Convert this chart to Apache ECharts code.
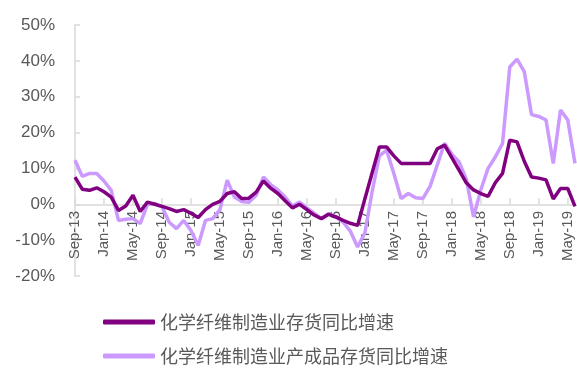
<!DOCTYPE html>
<html>
<head>
<meta charset="utf-8">
<script src="https://cdn.jsdelivr.net/npm/echarts@6/dist/echarts.min.js"></script>
<style>
    html, body { margin: 0; padding: 0; background: #fff; }
    #chart { width: 577px; height: 372px; }
</style>
</head>
<body>
<div id="chart"></div>
<script>
// months Sep-13 .. Jun-19
const months = [];
const monNames = ['Jan','Feb','Mar','Apr','May','Jun','Jul','Aug','Sep','Oct','Nov','Dec'];
for (let i = 0; i < 70; i++) {
    const m = (8 + i) % 12;
    const y = 13 + Math.floor((8 + i) / 12);
    months.push(monNames[m] + '-' + y);
}

const seriesNames = ['化学纤维制造业存货同比增速', '化学纤维制造业产成品存货同比增速'];

// 存货同比 (%)
const inventory = [
    7.6, 4.2, 3.9, 4.6, 3.5, 2.0, -1.7, -0.5, 2.5, -2.0,
    0.6, 0.0, -0.6, -1.2, -2.0, -1.5, -2.5, -3.7, -1.5, 0.0,
    0.8, 3.0, 3.5, 1.6, 1.7, 3.4, 6.5, 4.5, 3.0, 1.0,
    -1.0, 0.0, -1.5, -3.0, -4.0, -2.8, -3.5, -4.5, -5.3, -5.9,
    1.5, 8.7, 16.0, 16.0, 13.5, 11.4, 11.4, 11.4, 11.4, 11.4,
    15.5, 16.5, 13.0, 9.5, 6.0, 4.0, 3.0, 2.2, 6.0, 8.6,
    17.9, 17.4, 12.0, 7.6, 7.3, 6.8, 1.5, 4.4, 4.4, -0.6
];

// 产成品存货同比 (%)
const finishedGoods = [
    12.3, 7.8, 8.6, 8.6, 6.5, 3.9, -4.5, -4.2, -4.0, -5.4,
    0.0, 0.2, -0.7, -5.0, -6.8, -4.5, -7.3, -11.5, -4.5, -4.0,
    -1.5, 6.7, 2.0, 0.8, 0.6, 2.5, 7.6, 5.5, 4.0, 2.0,
    -0.5, 0.6, -1.0, -2.5, -4.0, -2.6, -3.5, -5.0, -7.5, -11.9,
    -8.0, 3.5, 13.5, 15.1, 8.6, 1.6, 3.0, 1.8, 1.6, 5.0,
    11.0, 17.0, 14.0, 11.8, 7.0, -3.5, 4.0, 10.0, 13.2, 17.0,
    38.3, 40.5, 37.0, 25.0, 24.5, 23.5, 11.4, 26.3, 23.5, 11.4
];

const chart = echarts.init(document.getElementById('chart'));

const option = {
    animation: false,
    grid: {
        left: 75,
        right: 2,
        top: 25,
        bottom: 96
    },
    legend: {
        orient: 'vertical',
        left: 103,
        top: 313,
        height: 90,
        padding: 0,
        itemWidth: 52,
        itemHeight: 5,
        itemGap: 16,
        icon: 'roundRect',
        textStyle: {
            fontFamily: 'Noto Sans CJK SC',
            fontSize: 18,
            color: '#595959'
        },
        data: seriesNames
    },
    xAxis: {
        type: 'category',
        data: months,
        boundaryGap: false,
        axisLine: {
            onZero: true,
            lineStyle: { color: '#D9D9D9', width: 1.5 }
        },
        axisTick: {
            inside: true,
            length: 6,
            interval: 3,
            lineStyle: { color: '#D9D9D9', width: 1.5 }
        },
        axisLabel: {
            interval: 3,
            rotate: 90,
            align: 'right',
            verticalAlign: 'middle',
            // labels sit under the zero line, not at the grid bottom
            margin: -65,
            fontFamily: 'Liberation Sans',
            fontSize: 15,
            color: '#595959'
        },
        splitLine: { show: false }
    },
    yAxis: {
        type: 'value',
        min: -20,
        max: 50,
        interval: 10,
        axisLine: {
            show: true,
            lineStyle: { color: '#D9D9D9', width: 1.5 }
        },
        axisTick: {
            show: true,
            inside: true,
            length: 5,
            lineStyle: { color: '#D9D9D9', width: 1.5 }
        },
        axisLabel: {
            formatter: '{value}%',
            margin: 20,
            fontFamily: 'Liberation Sans',
            fontSize: 17,
            color: '#595959'
        },
        splitLine: { show: false }
    },
    series: [
        {
            name: seriesNames[0],
            type: 'line',
            data: inventory,
            symbol: 'none',
            z: 3,
            lineStyle: { color: '#800080', width: 3.5 },
            itemStyle: { color: '#800080' }
        },
        {
            name: seriesNames[1],
            type: 'line',
            data: finishedGoods,
            symbol: 'none',
            z: 2,
            lineStyle: { color: '#CC99FF', width: 3.5 },
            itemStyle: { color: '#CC99FF' }
        }
    ]
};

chart.setOption(option);

window.addEventListener('resize', function () {
    chart.resize();
});
</script>
</body>
</html>
